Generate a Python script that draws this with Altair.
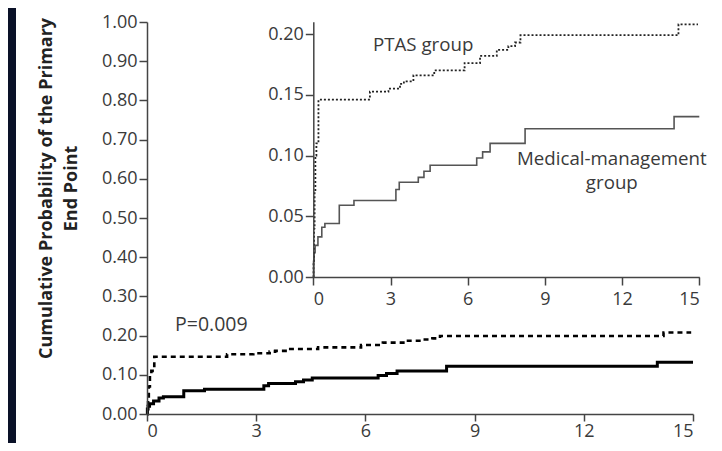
import altair as alt
import pandas as pd

# ---- data (months, cumulative probability) ----
med_t = [0, 0.01, 0.03, 0.07, 0.18, 0.33, 0.45, 1.01, 1.58, 3.21, 3.34, 4.08, 4.30, 4.54,
         6.35, 6.58, 6.87, 8.23, 14.02, 15.0]
med_p = [0, 0.013, 0.020, 0.026, 0.033, 0.041, 0.044, 0.059, 0.063, 0.072, 0.078, 0.082,
         0.087, 0.092, 0.098, 0.103, 0.110, 0.122, 0.132, 0.132]
ptas_t = [0, 0.01, 0.03, 0.05, 0.08, 0.12, 0.2, 2.2, 2.92, 3.37, 3.52, 3.89, 4.7, 5.88,
          6.48, 7.13, 7.58, 7.84, 8.05, 14.19, 14.95]
ptas_p = [0, 0.012, 0.04, 0.07, 0.10, 0.11, 0.146, 0.1525, 0.155, 0.159, 0.161, 0.166,
          0.170, 0.176, 0.182, 0.187, 0.190, 0.193, 0.199, 0.208, 0.208]

main_y_ticks = [0.0, 0.1, 0.2, 0.3, 0.4, 0.5, 0.6, 0.7, 0.8, 0.9, 1.0]
inset_y_ticks = [0.0, 0.05, 0.10, 0.15, 0.20]
x_ticks = [0, 3, 6, 9, 12, 15]

p_label = ["P=0.009"]
p_pos = [(0.77, 0.226)]
inset_labels = ["PTAS group", "Medical-management", "group"]
inset_label_pos = [(2.32, 0.191), (11.6, 0.097), (11.6, 0.0772)]
inset_label_align = ["left", "center", "center"]

ytitle = ["Cumulative Probability of the Primary", "End Point"]

# ---- tables ----
med = pd.DataFrame({"t": med_t, "p": med_p})
ptas = pd.DataFrame({"t": ptas_t, "p": ptas_p})
ptext = pd.DataFrame({"t": [p[0] for p in p_pos], "p": [p[1] for p in p_pos], "label": p_label})
itext = pd.DataFrame({"t": [p[0] for p in inset_label_pos], "p": [p[1] for p in inset_label_pos],
                      "label": inset_labels, "align": inset_label_align})

# plot area: page x 147..693, y 22..414 ; chart origin at page (8, 8), chart size 706 x 435
W, H = 546, 392
PAD_L, PAD_T = 139, 14
PAD_R, PAD_B = 706 - PAD_L - W, 435 - PAD_T - H
FONT = "Open Sans"
AX = "#444444"
LBL = "#3a3a3a"
NAVY = "#0a1128"

# inset placement (page coordinates converted to plot-relative)
IN_X0, IN_X1 = 313.3 - 147, 699.3 - 147
IN_Y0 = 277 - (PAD_T + 8)          # value 0
IN_Y1 = IN_Y0 - 0.21 * 1215        # value 0.21

axis_common = dict(domainColor=AX, tickColor=AX, domainWidth=1.5, tickWidth=1.5,
                   tickSize=8, labelFontSize=18, labelColor=LBL, labelFont=FONT, grid=False,
                   zindex=1)

main_x = alt.X("t:Q", scale=alt.Scale(domain=[0, 15], nice=False, zero=False),
               axis=alt.Axis(values=x_ticks, title=None, orient="bottom", labelPadding=1,
                             **{**axis_common, "tickSize": 7}))
main_y = alt.Y("p:Q", scale=alt.Scale(domain=[0, 1], nice=False),
               axis=alt.Axis(values=main_y_ticks, format=".2f", orient="left", labelPadding=2,
                             title=ytitle, titleFont=FONT, titleFontSize=18,
                             titleFontWeight="bold", titleColor="#222222",
                             titleX=-92, titleY=166, titleAngle=270, titleLineHeight=25,
                             titleAlign="center", titleBaseline="bottom",
                             **axis_common))

inset_x = alt.X("t:Q", scale=alt.Scale(domain=[0, 15], nice=False, zero=False, range=[IN_X0, IN_X1]),
                axis=alt.Axis(values=x_ticks, title=None, orient="bottom", offset=IN_Y0 - H,
                              labelPadding=5, **axis_common))
inset_y = alt.Y("p:Q", scale=alt.Scale(domain=[0, 0.21], nice=False, range=[IN_Y0, IN_Y1]),
                axis=alt.Axis(values=inset_y_ticks, format=".2f", title=None, orient="left",
                              offset=-IN_X0, labelPadding=2, **axis_common))

# decorative dark strip at the left edge of the picture
strip = alt.Chart(pd.DataFrame({"a": [0]})).mark_rect(color=NAVY).encode(
    x=alt.value(-PAD_L), x2=alt.value(-PAD_L + 8), y=alt.value(-PAD_T), y2=alt.value(H + PAD_B))

main_med = alt.Chart(med).mark_line(interpolate="step-after", color="black", strokeWidth=3).encode(
    x=main_x, y=main_y)
main_ptas = alt.Chart(ptas).mark_line(interpolate="step-after", color="black", strokeWidth=2.6,
                                      strokeDash=[5, 4]).encode(x=main_x, y=main_y)
main_text = alt.Chart(ptext).mark_text(align="left", baseline="middle", font=FONT, fontSize=19.5,
                                       color=LBL).encode(x=main_x, y=main_y, text="label:N")
main = alt.layer(main_med, main_ptas, main_text)

in_med = alt.Chart(med).mark_line(interpolate="step-after", color="#555555", strokeWidth=1.6).encode(
    x=inset_x, y=inset_y)
in_ptas = alt.Chart(ptas).mark_line(interpolate="step-after", color="#222222", strokeWidth=1.8,
                                    strokeDash=[2, 2]).encode(x=inset_x, y=inset_y)
in_text_l = alt.Chart(itext).transform_filter(alt.datum.align == "left").mark_text(
    align="left", baseline="middle", font=FONT, fontSize=18.7, color=LBL).encode(
    x=inset_x, y=inset_y, text="label:N")
in_text_c = alt.Chart(itext).transform_filter(alt.datum.align == "center").mark_text(
    align="center", baseline="middle", font=FONT, fontSize=18.7, color=LBL).encode(
    x=inset_x, y=inset_y, text="label:N")
inset = alt.layer(in_med, in_ptas, in_text_l, in_text_c)

chart = alt.layer(strip, main, inset).resolve_scale(x="independent", y="independent").properties(
    width=W, height=H,
    autosize=alt.AutoSizeParams(type="none"),
    padding={"left": PAD_L, "top": PAD_T, "right": PAD_R, "bottom": PAD_B},
    background="white",
).configure_view(stroke=None)

chart.save("out.html", embed_options={"renderer": "svg", "actions": False})
